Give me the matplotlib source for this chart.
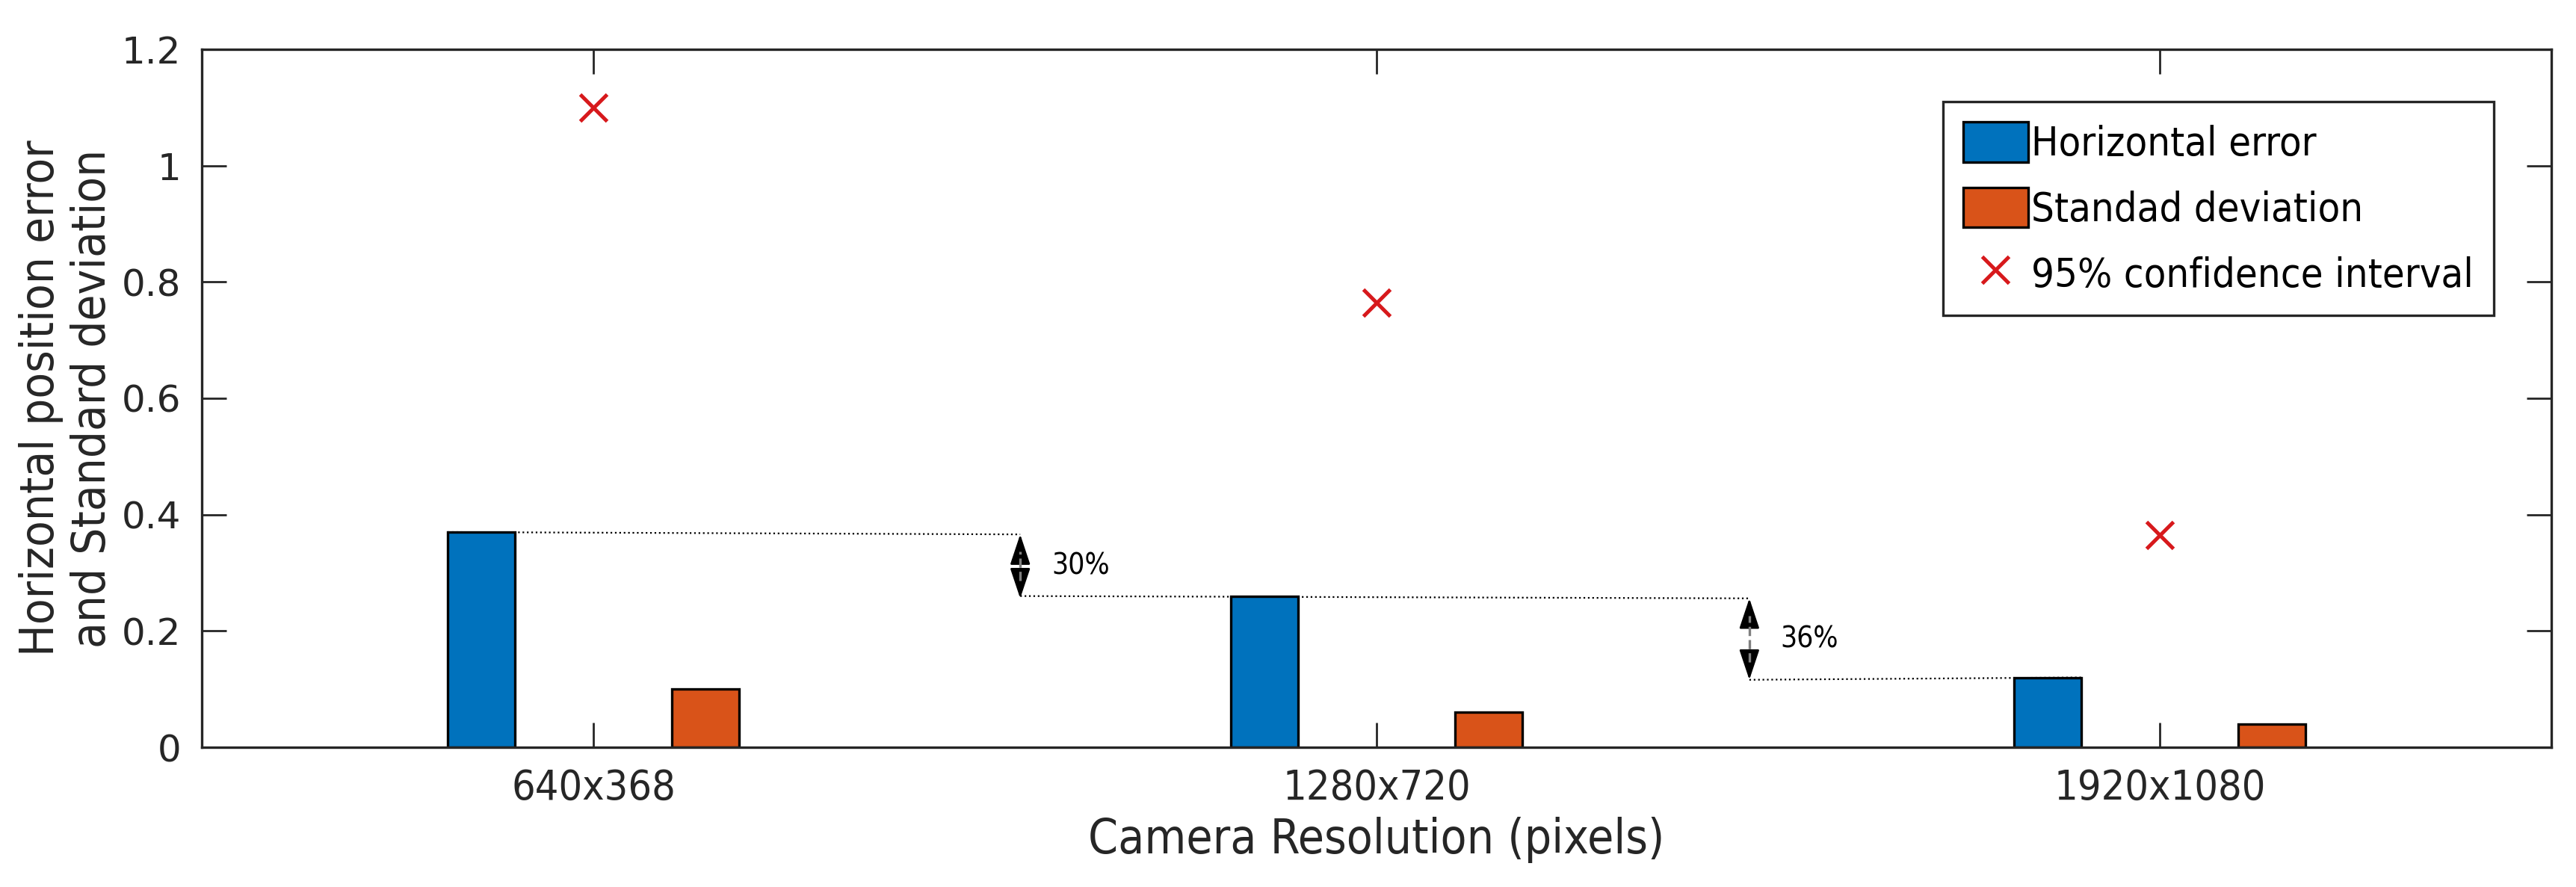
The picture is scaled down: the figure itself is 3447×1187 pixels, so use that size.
import matplotlib.pyplot as plt
import numpy as np

# data
categories = ["640x368", "1280x720", "1920x1080"]
horizontal_error = np.array([0.37, 0.26, 0.12])
std_dev = np.array([0.10, 0.06, 0.04])
conf95 = np.array([1.10, 0.765, 0.365])
drop_labels = ["30%", "36%"]

blue = '#0072BD'
orange = '#D95319'
red = '#D7191C'
axcol = '#262626'

plt.rcParams['font.family'] = ['DejaVu Sans']
plt.rcParams['font.stretch'] = 'condensed'

fig = plt.figure(figsize=(17.235, 5.935), dpi=200)
ax = fig.add_axes([270 / 3447, 1 - 1000 / 1187, 3144 / 3447, 934 / 1187])

x = np.arange(1, len(categories) + 1)
w = 0.086
off = 0.143
b1 = ax.bar(x - off, horizontal_error, w, color=blue, edgecolor='k', lw=1.2,
            label='Horizontal error', zorder=2)
b2 = ax.bar(x + off, std_dev, w, color=orange, edgecolor='k', lw=1.2,
            label='Standad deviation', zorder=2)
m, = ax.plot(x, conf95, 'x', color=red, ms=13, mew=1.8, ls='none',
             label='95% confidence interval', zorder=3)

# dotted guide lines and arrows showing the reduction
arrow_x = [1.545, 2.476]
tops = [horizontal_error[0], horizontal_error[1]]
bots = [horizontal_error[1], horizontal_error[2]]
ax.plot([x[0] - off - w / 2, arrow_x[0]], [tops[0], tops[0] - 0.004], ':', color='k', lw=0.8, zorder=4)
ax.plot([arrow_x[0], arrow_x[1]], [bots[0], bots[0] - 0.004], ':', color='k', lw=0.8, zorder=4)
ax.plot([arrow_x[1], x[2] - off + w / 2], [bots[1] - 0.004, bots[1]], ':', color='k', lw=0.8, zorder=4)

head = dict(arrowstyle='-|>,head_length=0.9,head_width=0.3', color='k', lw=1.0,
            shrinkA=0, shrinkB=0, mutation_scale=14)
for ax_x, t, b, lab in zip(arrow_x, tops, bots, drop_labels):
    t = t - 0.004
    b = b - 0.004
    ax.plot([ax_x, ax_x], [b + 0.03, t - 0.03], '--', color='gray', lw=1.2, zorder=4)
    ax.annotate('', xy=(ax_x, t), xytext=(ax_x, t - 0.04), arrowprops=head)
    ax.annotate('', xy=(ax_x, b), xytext=(ax_x, b + 0.04), arrowprops=head)
    ax.text(ax_x + 0.04, (t + b) / 2, lab, fontsize=14, va='center', ha='left', color='k')

ax.set_xlim(0.5, 3.5)
ax.set_ylim(0, 1.2)
ax.set_xticks(x)
ax.set_xticklabels(categories, fontsize=20, color=axcol)
ax.set_yticks(np.arange(0, 1.21, 0.2))
ax.set_yticklabels(['0', '0.2', '0.4', '0.6', '0.8', '1', '1.2'], fontsize=18,
                   color=axcol, fontstretch='normal')
ax.tick_params(direction='in', length=12, width=1, colors=axcol, top=True, right=True,
               labelcolor=axcol, pad=10)
for s in ax.spines.values():
    s.set_color(axcol)
    s.set_linewidth(1.2)

ax.set_xlabel('Camera Resolution (pixels)', fontsize=23, color=axcol, labelpad=4)
ax.set_ylabel('Horizontal position error\nand Standard deviation', fontsize=22.8,
              color=axcol, labelpad=3, linespacing=1.2)

leg = ax.legend([b1, b2, m], ['Horizontal error', 'Standad deviation', '95% confidence interval'],
                loc='upper right', bbox_to_anchor=(1 - 77 / 3144, 1 - 70 / 934),
                fontsize=19.5, handlelength=1.6, handleheight=1.15, handletextpad=0.08,
                labelspacing=0.58, borderaxespad=0, fancybox=False, framealpha=1,
                edgecolor=axcol, borderpad=0.5)
leg.get_frame().set_linewidth(1.2)

fig.savefig('out.png', dpi=200)
